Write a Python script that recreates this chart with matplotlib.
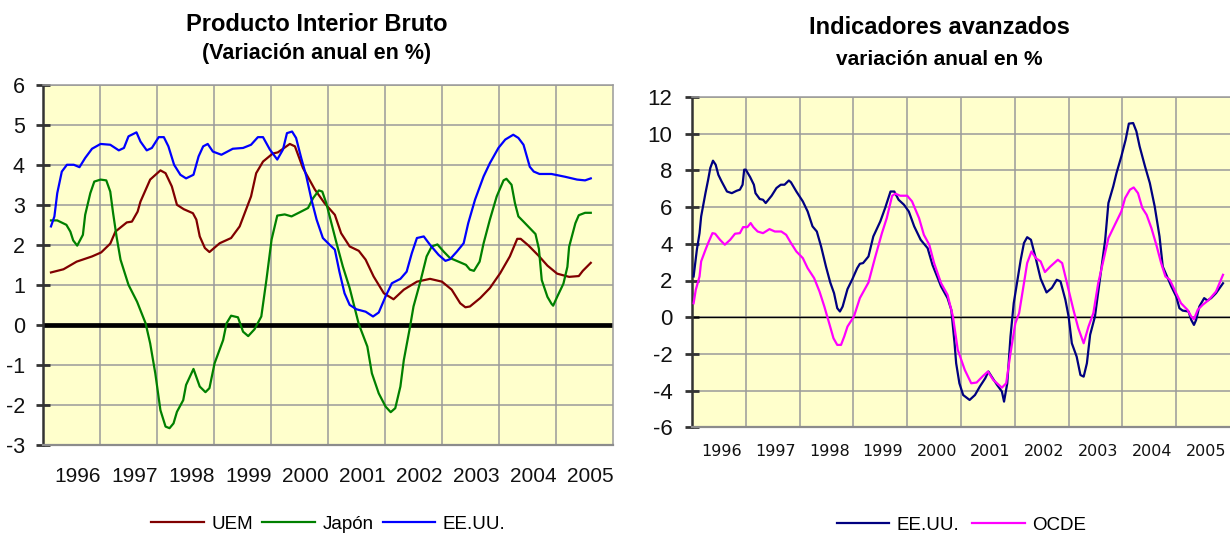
import matplotlib
matplotlib.use("Agg")
import matplotlib.pyplot as plt

plt.rcParams['font.family'] = ['Liberation Sans', 'DejaVu Sans']
plt.rcParams['axes.unicode_minus'] = False

# ---- left chart: PIB, variación anual (%) ----
years = [1996, 1997, 1998, 1999, 2000, 2001, 2002, 2003, 2004, 2005]
year_labels = [str(y) for y in years]

uem_t = [1995.54, 1995.76, 1995.99, 1996.26, 1996.42, 1996.58, 1996.67, 1996.87, 1996.96,
         1997.06, 1997.11, 1997.28, 1997.46, 1997.55, 1997.66, 1997.75, 1997.87, 1998.03,
         1998.09, 1998.15, 1998.24, 1998.32, 1998.50, 1998.70, 1998.85, 1999.05, 1999.14,
         1999.26, 1999.43, 1999.52, 1999.73, 1999.82, 1999.96, 2000.17, 2000.34, 2000.52,
         2000.63, 2000.78, 2000.94, 2001.06, 2001.20, 2001.38, 2001.55, 2001.73, 2001.96,
         2002.19, 2002.40, 2002.57, 2002.72, 2002.81, 2002.89, 2003.07, 2003.24, 2003.42,
         2003.59, 2003.72, 2003.78, 2003.92, 2004.10, 2004.25, 2004.42, 2004.63, 2004.80,
         2004.87, 2005.01]
uem_v = [1.31, 1.39, 1.58, 1.71, 1.81, 2.03, 2.33, 2.56, 2.58,
         2.83, 3.08, 3.63, 3.86, 3.79, 3.46, 3.00, 2.89, 2.79,
         2.63, 2.21, 1.92, 1.82, 2.04, 2.17, 2.46, 3.21, 3.79,
         4.08, 4.28, 4.31, 4.52, 4.46, 3.92, 3.38, 3.04, 2.75,
         2.29, 1.96, 1.85, 1.63, 1.21, 0.79, 0.64, 0.88, 1.08,
         1.15, 1.08, 0.88, 0.54, 0.44, 0.46, 0.67, 0.92, 1.29,
         1.71, 2.15, 2.15, 1.98, 1.72, 1.48, 1.28, 1.20, 1.22,
         1.35, 1.55]

jap_t = [1995.54, 1995.65, 1995.81, 1995.88, 1995.93, 1996.00, 1996.10, 1996.14, 1996.23,
         1996.30, 1996.41, 1996.51, 1996.58, 1996.63, 1996.69, 1996.76, 1996.90, 1997.05,
         1997.20, 1997.28, 1997.37, 1997.46, 1997.55, 1997.62, 1997.69, 1997.75, 1997.86,
         1997.91, 1998.04, 1998.15, 1998.25, 1998.32, 1998.41, 1998.56, 1998.62, 1998.70,
         1998.82, 1998.91, 1999.00, 1999.11, 1999.23, 1999.32, 1999.41, 1999.51, 1999.64,
         1999.76, 1999.90, 2000.05, 2000.14, 2000.24, 2000.30, 2000.37, 2000.46, 2000.55,
         2000.66, 2000.78, 2000.94, 2001.09, 2001.17, 2001.29, 2001.41, 2001.50, 2001.58,
         2001.67, 2001.73, 2001.84, 2001.90, 2002.02, 2002.13, 2002.22, 2002.32, 2002.43,
         2002.54, 2002.69, 2002.82, 2002.89, 2002.96, 2003.06, 2003.13, 2003.24, 2003.36,
         2003.48, 2003.53, 2003.62, 2003.68, 2003.74, 2003.83, 2004.04, 2004.10, 2004.15,
         2004.25, 2004.32, 2004.35, 2004.42, 2004.53, 2004.60, 2004.63, 2004.74, 2004.80,
         2004.91, 2005.01]
jap_v = [2.61, 2.61, 2.50, 2.33, 2.11, 1.98, 2.25, 2.75, 3.29,
         3.58, 3.63, 3.61, 3.33, 2.79, 2.21, 1.63, 1.00, 0.58,
         0.04, -0.46, -1.21, -2.13, -2.54, -2.58, -2.46, -2.17, -1.88,
         -1.50, -1.10, -1.54, -1.68, -1.58, -0.96, -0.38, 0.04, 0.23,
         0.19, -0.17, -0.28, -0.11, 0.21, 1.13, 2.13, 2.73, 2.76,
         2.71, 2.81, 2.92, 3.17, 3.36, 3.33, 3.04, 2.54, 2.04,
         1.46, 0.92, 0.02, -0.54, -1.21, -1.71, -2.04, -2.18, -2.08,
         -1.54, -0.88, -0.04, 0.46, 1.08, 1.71, 1.96, 2.01, 1.83,
         1.67, 1.58, 1.50, 1.38, 1.35, 1.58, 2.04, 2.63, 3.21,
         3.61, 3.65, 3.50, 3.04, 2.71, 2.58, 2.27, 1.90, 1.12,
         0.70, 0.53, 0.48, 0.70, 1.03, 1.45, 1.95, 2.54, 2.74,
         2.80, 2.80]

usa_t = [1995.54, 1995.60, 1995.65, 1995.73, 1995.82, 1995.94, 1996.04, 1996.14, 1996.26,
         1996.41, 1996.58, 1996.73, 1996.82, 1996.90, 1997.04, 1997.11, 1997.22, 1997.31,
         1997.43, 1997.52, 1997.60, 1997.70, 1997.81, 1997.91, 1998.04, 1998.13, 1998.21,
         1998.29, 1998.38, 1998.53, 1998.73, 1998.91, 1999.05, 1999.17, 1999.26, 1999.38,
         1999.51, 1999.61, 1999.68, 1999.77, 1999.84, 1999.93, 2000.02, 2000.11, 2000.20,
         2000.31, 2000.43, 2000.52, 2000.60, 2000.69, 2000.78, 2000.90, 2001.06, 2001.19,
         2001.29, 2001.41, 2001.52, 2001.67, 2001.78, 2001.87, 2001.96, 2002.08, 2002.19,
         2002.34, 2002.46, 2002.54, 2002.66, 2002.78, 2002.86, 2002.98, 2003.13, 2003.24,
         2003.39, 2003.51, 2003.65, 2003.74, 2003.83, 2003.94, 2004.01, 2004.11, 2004.32,
         2004.56, 2004.77, 2004.91, 2005.01]
usa_v = [2.46, 2.71, 3.29, 3.83, 4.00, 4.00, 3.94, 4.17, 4.40,
         4.52, 4.50, 4.36, 4.42, 4.71, 4.81, 4.58, 4.36, 4.42,
         4.69, 4.69, 4.46, 4.00, 3.75, 3.66, 3.75, 4.21, 4.46,
         4.52, 4.33, 4.25, 4.40, 4.42, 4.50, 4.69, 4.69, 4.38,
         4.13, 4.38, 4.79, 4.83, 4.67, 4.17, 3.71, 3.13, 2.63,
         2.17, 2.00, 1.88, 1.33, 0.79, 0.50, 0.39, 0.33, 0.21,
         0.31, 0.71, 1.04, 1.15, 1.33, 1.79, 2.17, 2.21, 2.00,
         1.75, 1.60, 1.64, 1.83, 2.04, 2.54, 3.13, 3.71, 4.04,
         4.42, 4.63, 4.75, 4.67, 4.50, 3.95, 3.83, 3.77, 3.77,
         3.70, 3.63, 3.61, 3.66]

# ---- right chart: indicadores avanzados ----
lead_usa_t = [1995.48, 1995.54, 1995.59, 1995.62, 1995.70, 1995.75, 1995.79, 1995.84, 1995.89,
              1995.94, 1996.00, 1996.10, 1996.19, 1996.28, 1996.34, 1996.39, 1996.42, 1996.45,
              1996.53, 1996.60, 1996.63, 1996.71, 1996.77, 1996.82, 1996.93, 1997.02, 1997.10,
              1997.17, 1997.25, 1997.29, 1997.39, 1997.51, 1997.60, 1997.69, 1997.77, 1997.85,
              1997.94, 1998.02, 1998.09, 1998.15, 1998.20, 1998.25, 1998.34, 1998.43, 1998.52,
              1998.57, 1998.63, 1998.73, 1998.82, 1998.95, 1999.04, 1999.14, 1999.21, 1999.29,
              1999.39, 1999.48, 1999.58, 1999.70, 1999.83, 1999.92, 2000.08, 2000.20, 2000.27,
              2000.33, 2000.36, 2000.42, 2000.49, 2000.61, 2000.71, 2000.80, 2000.90, 2000.96,
              2001.02, 2001.12, 2001.21, 2001.25, 2001.31, 2001.37, 2001.43, 2001.49, 2001.56,
              2001.62, 2001.68, 2001.75, 2001.84, 2001.93, 2002.04, 2002.14, 2002.23, 2002.30,
              2002.39, 2002.45, 2002.51, 2002.60, 2002.67, 2002.73, 2002.79, 2002.85, 2002.94,
              2003.03, 2003.13, 2003.19, 2003.28, 2003.34, 2003.43, 2003.51, 2003.57, 2003.65,
              2003.71, 2003.77, 2003.87, 2003.96, 2004.05, 2004.14, 2004.20, 2004.28, 2004.36,
              2004.45, 2004.51, 2004.57, 2004.68, 2004.73, 2004.78, 2004.82, 2004.88, 2004.97,
              2005.03, 2005.10, 2005.19, 2005.32]
lead_usa_v = [2.22, 3.67, 4.58, 5.49, 6.76, 7.49, 8.13, 8.53, 8.31,
              7.76, 7.40, 6.85, 6.76, 6.89, 6.95, 7.22, 8.04, 8.04,
              7.64, 7.22, 6.76, 6.44, 6.40, 6.22, 6.62, 7.04, 7.22,
              7.22, 7.45, 7.35, 6.85, 6.31, 5.76, 4.95, 4.67, 3.85,
              2.76, 1.89, 1.31, 0.49, 0.31, 0.58, 1.53, 2.07, 2.67,
              2.91, 2.95, 3.31, 4.40, 5.22, 5.95, 6.85, 6.85, 6.40,
              6.13, 5.76, 4.95, 4.22, 3.76, 2.85, 1.67, 1.04, 0.40,
              -1.42, -2.51, -3.60, -4.24, -4.51, -4.24, -3.78, -3.33, -2.96,
              -3.24, -3.69, -4.05, -4.60, -3.60, -1.05, 0.76, 1.85, 3.13,
              4.04, 4.36, 4.22, 3.20, 2.10, 1.35, 1.60, 2.04, 1.95,
              0.95, 0.04, -1.42, -2.15, -3.15, -3.24, -2.51, -0.96, 0.04,
              2.04, 4.22, 6.22, 7.13, 7.85, 8.76, 9.67, 10.55, 10.58,
              10.13, 9.31, 8.22, 7.31, 6.04, 4.40, 2.76, 2.22, 1.67,
              1.13, 0.49, 0.36, 0.31, -0.15, -0.42, -0.15, 0.58, 1.04,
              0.91, 1.04, 1.31, 1.85]

ocde_t = [1995.48, 1995.52, 1995.59, 1995.62, 1995.70, 1995.75, 1995.83, 1995.88, 1995.97,
          1996.06, 1996.16, 1996.25, 1996.34, 1996.40, 1996.48, 1996.54, 1996.59, 1996.67,
          1996.77, 1996.89, 1996.99, 1997.11, 1997.20, 1997.29, 1997.39, 1997.51, 1997.60,
          1997.72, 1997.82, 1997.91, 1998.00, 1998.08, 1998.15, 1998.22, 1998.28, 1998.34,
          1998.46, 1998.57, 1998.73, 1998.85, 1998.98, 1999.07, 1999.17, 1999.23, 1999.32,
          1999.45, 1999.54, 1999.67, 1999.76, 1999.86, 1999.95, 2000.08, 2000.20, 2000.30,
          2000.39, 2000.52, 2000.64, 2000.74, 2000.86, 2000.95, 2001.05, 2001.12, 2001.21,
          2001.29, 2001.37, 2001.46, 2001.53, 2001.62, 2001.68, 2001.76, 2001.84, 2001.93,
          2002.01, 2002.11, 2002.25, 2002.33, 2002.45, 2002.54, 2002.63, 2002.73, 2002.82,
          2002.91, 2003.00, 2003.10, 2003.19, 2003.31, 2003.43, 2003.50, 2003.59, 2003.66,
          2003.74, 2003.82, 2003.90, 2003.99, 2004.08, 2004.17, 2004.25, 2004.33, 2004.42,
          2004.54, 2004.66, 2004.73, 2004.78, 2004.85, 2004.94, 2005.06, 2005.19, 2005.32]
ocde_v = [0.76, 1.49, 2.22, 3.04, 3.67, 4.04, 4.58, 4.55, 4.22,
          3.95, 4.22, 4.55, 4.58, 4.91, 4.91, 5.13, 4.91, 4.67,
          4.58, 4.80, 4.67, 4.67, 4.49, 4.04, 3.58, 3.22, 2.67,
          2.13, 1.40, 0.58, -0.33, -1.15, -1.51, -1.51, -1.05, -0.51,
          0.04, 1.04, 1.89, 3.22, 4.58, 5.40, 6.62, 6.73, 6.62,
          6.62, 6.31, 5.40, 4.49, 3.95, 2.95, 1.85, 1.22, 0.04,
          -1.78, -2.87, -3.60, -3.56, -3.20, -2.96, -3.42, -3.60, -3.84,
          -3.60, -1.96, -0.33, 0.22, 1.85, 2.95, 3.58, 3.22, 3.04,
          2.46, 2.76, 3.13, 2.95, 1.49, 0.40, -0.60, -1.42, -0.51,
          0.22, 1.85, 3.13, 4.31, 5.04, 5.76, 6.49, 6.95, 7.07,
          6.76, 5.95, 5.58, 4.85, 3.95, 2.95, 2.22, 2.04, 1.49,
          0.76, 0.40, 0.04, -0.11, 0.40, 0.67, 0.95, 1.40, 2.31]

BG = '#FFFFCC'
GRID = '#9a9a9a'


def style_axes(ax, x0, ylim, ystep, lab_font, lab_size, lab_pad, ylab_size, ypad):
    ax.set_facecolor(BG)
    ax.set_xlim(x0, x0 + 10)
    ax.set_ylim(*ylim)
    ax.set_yticks(range(ylim[0], ylim[1] + 1, ystep))
    ax.set_xticks(years)
    ax.set_xticklabels(year_labels, fontsize=lab_size, family=lab_font)
    ax.set_xticks([x0 + i for i in range(1, 10)], minor=True)
    ax.tick_params(axis='x', which='both', length=0, pad=lab_pad, colors='#111111')
    ax.tick_params(axis='y', direction='inout', length=10, width=2, color='#333333',
                   labelsize=ylab_size, pad=ypad, labelcolor='#111111')
    ax.grid(which='major', axis='y', color=GRID, lw=1.1, zorder=0)
    ax.grid(which='minor', axis='x', color=GRID, lw=1.1, zorder=0)
    ax.set_axisbelow(True)
    ax.spines['left'].set_color('#333333')
    ax.spines['left'].set_linewidth(1.8)
    ax.spines['bottom'].set_color('#8c8c8c')
    ax.spines['bottom'].set_linewidth(1.6)
    ax.spines['top'].set_color(GRID)
    ax.spines['top'].set_linewidth(1.1)
    ax.spines['right'].set_color(GRID)
    ax.spines['right'].set_linewidth(1.1)


fig = plt.figure(figsize=(12.3, 5.34), dpi=100)

ax1 = fig.add_axes([43 / 1230, 89 / 534, 570 / 1230, 360.3 / 534])
style_axes(ax1, 1995.4, (-3, 6), 1, 'Liberation Sans', 15, 16, 15.5, 8)
ax1.axhline(0, color='black', lw=3.4, zorder=1)
ax1.plot(uem_t, uem_v, color='#800000', lw=1.6, label='UEM', zorder=3)
ax1.plot(jap_t, jap_v, color='#008000', lw=1.6, label='Japón', zorder=3)
ax1.plot(usa_t, usa_v, color='#0000FF', lw=1.6, label='EE.UU.', zorder=3)

fig.text(0.2577, 0.955, 'Producto Interior Bruto', ha='center', va='center',
         fontsize=17, fontweight='bold')
fig.text(0.257, 0.899, '(Variación anual en %)', ha='center', va='center',
         fontsize=15.5, fontweight='bold')

leg1 = fig.legend(*ax1.get_legend_handles_labels(), loc='center', ncol=3,
                  bbox_to_anchor=(0.267, 0.018), frameon=False, fontsize=13.5,
                  handlelength=2.8, handletextpad=0.4, columnspacing=0.5)

ax2 = fig.add_axes([692 / 1230, 106.7 / 534, 538 / 1230, 330.3 / 534])
style_axes(ax2, 1995.45, (-6, 12), 2, 'DejaVu Sans', 11.5, 12, 16, 9)
ax2.spines['right'].set_visible(False)
ax2.axhline(0, color='black', lw=1.0, zorder=1)
ax2.plot(lead_usa_t, lead_usa_v, color='#000080', lw=1.6, label='EE.UU.', zorder=3)
ax2.plot(ocde_t, ocde_v, color='#FF00FF', lw=1.6, label='OCDE', zorder=3)

fig.text(0.7634, 0.9476, 'Indicadores avanzados', ha='center', va='center',
         fontsize=17, fontweight='bold')
fig.text(0.764, 0.8895, 'variación anual en %', ha='center', va='center',
         fontsize=15, fontweight='bold')

leg2 = fig.legend(*ax2.get_legend_handles_labels(), loc='center', ncol=2,
                  bbox_to_anchor=(0.7817, 0.016), frameon=False, fontsize=13.5,
                  handlelength=2.8, handletextpad=0.4, columnspacing=0.7)

fig.savefig('out.png', dpi=100, facecolor='white')
